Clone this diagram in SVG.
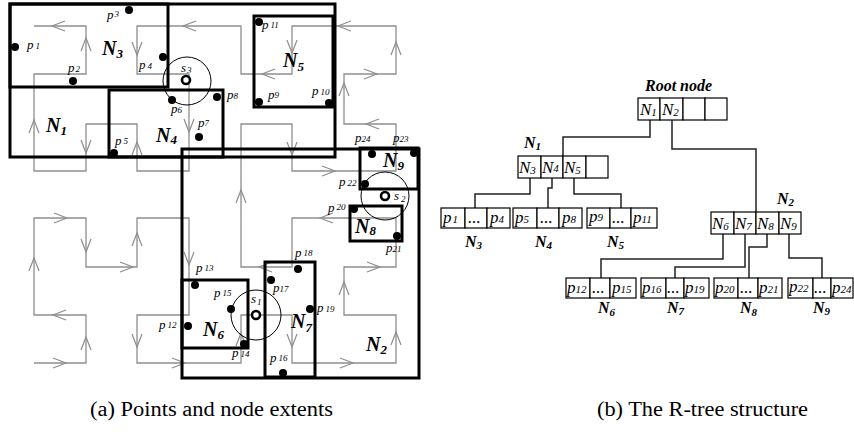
<svg xmlns="http://www.w3.org/2000/svg" xmlns:xlink="http://www.w3.org/1999/xlink" width="854" height="435" viewBox="0 0 854 435">
<style>
.curve{fill:none;stroke:#8e8e8e;stroke-width:1.3}
.chev{fill:none;stroke:#8e8e8e;stroke-width:1.2}
.box{fill:none;stroke:#000;stroke-width:3}
.qc{fill:none;stroke:#000;stroke-width:1}
.qp{fill:#fff;stroke:#000;stroke-width:2.6}
.pt{fill:#000}
.t{font-family:"Liberation Serif","Times New Roman",serif;fill:#000}
.pl{font-style:italic;font-size:13px}
.ps{font-size:9px}
.nl{font-style:italic;font-weight:bold;font-size:20px}
.ns{font-size:13px}
.cell{fill:#fff;stroke:#000;stroke-width:1.2}
.link{fill:none;stroke:#222;stroke-width:1.5}
.ct{font-style:italic;font-size:17px}
.cs{font-size:11px}
.tl{font-style:italic;font-weight:bold;font-size:16px}
.tls{font-size:11px}
.cap{font-size:20px}
</style>
<defs>
<path id="aR" class="chev" d="M-13,-5 L0,0 L-13,5"/>
<path id="aL" class="chev" d="M13,-5 L0,0 L13,5"/>
<path id="aU" class="chev" d="M-5,13 L0,0 L5,13"/>
<path id="aD" class="chev" d="M-5,-13 L0,0 L5,-13"/>
</defs>
<rect width="854" height="435" fill="#fff"/>

<g id="space-filling-curve">
<path class="curve" d="M34,363 H86 V315 H34 V218 H86 V267 H137 V218 H189 V315 H137 V363 H241 V315 H292 V363 H396 V315 H344 V267 H396 V218 H292 V267 H241 V124 H292 V171 H396 V124 H344 V74 H396 V26 H292 V74 H241 V26 H137 V74 H189 V171 H137 V124 H86 V171 H34 V74 H86 V26 H34"/>
<use xlink:href="#aR" x="66" y="363"/>
<use xlink:href="#aU" x="86" y="337"/>
<use xlink:href="#aL" x="53" y="315"/>
<use xlink:href="#aU" x="34" y="258"/>
<use xlink:href="#aR" x="67" y="218"/>
<use xlink:href="#aD" x="86" y="252"/>
<use xlink:href="#aR" x="133" y="267"/>
<use xlink:href="#aU" x="137" y="233"/>
<use xlink:href="#aD" x="189" y="265"/>
<use xlink:href="#aD" x="137" y="347"/>
<use xlink:href="#aR" x="185" y="363"/>
<use xlink:href="#aU" x="241" y="333"/>
<use xlink:href="#aD" x="292" y="347"/>
<use xlink:href="#aR" x="353" y="363"/>
<use xlink:href="#aU" x="396" y="332"/>
<use xlink:href="#aU" x="344" y="282"/>
<use xlink:href="#aR" x="380" y="267"/>
<use xlink:href="#aL" x="320" y="218"/>
<use xlink:href="#aL" x="259" y="267"/>
<use xlink:href="#aU" x="241" y="190"/>
<use xlink:href="#aD" x="292" y="155"/>
<use xlink:href="#aR" x="335" y="171"/>
<use xlink:href="#aL" x="366" y="124"/>
<use xlink:href="#aU" x="344" y="83"/>
<use xlink:href="#aR" x="377" y="74"/>
<use xlink:href="#aU" x="396" y="42"/>
<use xlink:href="#aL" x="338" y="26"/>
<use xlink:href="#aD" x="292" y="53"/>
<use xlink:href="#aL" x="262" y="74"/>
<use xlink:href="#aL" x="183" y="26"/>
<use xlink:href="#aD" x="137" y="55"/>
<use xlink:href="#aD" x="189" y="132"/>
<use xlink:href="#aU" x="137" y="142"/>
<use xlink:href="#aD" x="86" y="153"/>
<use xlink:href="#aU" x="34" y="120"/>
<use xlink:href="#aU" x="86" y="38"/>
<use xlink:href="#aL" x="52" y="26"/>
</g>

<g id="extent-N1"><rect class="box" x="10" y="4" width="325" height="153"/><text class="t nl" x="46" y="132">N<tspan class="ns" dy="3">1</tspan></text></g>
<g id="extent-N3"><rect class="box" x="10" y="4" width="158" height="83"/><text class="t nl" x="102" y="55">N<tspan class="ns" dy="3">3</tspan></text></g>
<g id="extent-N4"><rect class="box" x="109" y="90" width="114" height="67"/><text class="t nl" x="156" y="142">N<tspan class="ns" dy="2">4</tspan></text></g>
<g id="extent-N5"><rect class="box" x="254" y="16" width="79" height="91"/><text class="t nl" x="283" y="67">N<tspan class="ns" dy="4">5</tspan></text></g>
<g id="extent-N2"><rect class="box" x="182" y="149" width="237" height="229"/><text class="t nl" x="366" y="351">N<tspan class="ns" dy="3">2</tspan></text></g>
<g id="extent-N9"><rect class="box" x="360" y="148" width="58" height="41"/><text class="t nl" x="383" y="167">N<tspan class="ns" dy="3">9</tspan></text></g>
<g id="extent-N8"><rect class="box" x="350" y="206" width="52" height="35"/><text class="t nl" x="355" y="233">N<tspan class="ns" dy="2">8</tspan></text></g>
<g id="extent-N6"><rect class="box" x="182" y="280" width="66" height="68"/><text class="t nl" x="203" y="336">N<tspan class="ns" dy="3">6</tspan></text></g>
<g id="extent-N7"><rect class="box" x="265" y="262" width="50" height="115"/><text class="t nl" x="291" y="328">N<tspan class="ns" dy="4">7</tspan></text></g>

<g id="query-s3"><circle class="qc" cx="187" cy="81" r="24"/><circle class="qp" cx="186" cy="80" r="4"/><text class="t pl" x="181" y="72">s<tspan class="ps" dx="1" dy="1">3</tspan></text></g>
<g id="query-s2"><circle class="qc" cx="385" cy="196" r="24"/><circle class="qp" cx="385" cy="196" r="4"/><text class="t pl" x="394" y="200">s<tspan class="ps" dx="2" dy="2">2</tspan></text></g>
<g id="query-s1"><circle class="qc" cx="256" cy="315" r="25"/><circle class="qp" cx="256" cy="315" r="4"/><text class="t pl" x="251" y="303">s<tspan class="ps" dx="1" dy="2">1</tspan></text></g>

<g id="points">
<circle class="pt" cx="15" cy="47" r="4"/><text class="t pl" x="27" y="49">p<tspan class="ps" dx="2">1</tspan></text>
<circle class="pt" cx="73" cy="81" r="4"/><text class="t pl" x="68" y="72">p<tspan class="ps" dx="1">2</tspan></text>
<circle class="pt" cx="129" cy="10" r="4"/><text class="t pl" x="107" y="19">p<tspan class="ps" dx="1" dy="-2">3</tspan></text>
<circle class="pt" cx="163" cy="57" r="4"/><text class="t pl" x="139" y="69">p<tspan class="ps" dx="2">4</tspan></text>
<circle class="pt" cx="114" cy="153" r="4"/><text class="t pl" x="115" y="145">p<tspan class="ps" dx="2" dy="-1">5</tspan></text>
<circle class="pt" cx="172" cy="100" r="4"/><text class="t pl" x="171" y="113">p<tspan class="ps" dx="0">6</tspan></text>
<circle class="pt" cx="199" cy="137" r="4"/><text class="t pl" x="198" y="127">p<tspan class="ps" dx="0" dy="-1">7</tspan></text>
<circle class="pt" cx="217" cy="97" r="4"/><text class="t pl" x="227" y="99">p<tspan class="ps" dx="0">8</tspan></text>
<circle class="pt" cx="259" cy="102" r="4"/><text class="t pl" x="268" y="99">p<tspan class="ps" dx="0" dy="-1">9</tspan></text>
<circle class="pt" cx="329" cy="103" r="4"/><text class="t pl" x="312" y="95">p<tspan class="ps" dx="2">10</tspan></text>
<circle class="pt" cx="259" cy="22" r="4"/><text class="t pl" x="262" y="29">p<tspan class="ps" dx="2" dy="-1">11</tspan></text>
<circle class="pt" cx="365" cy="184" r="4"/><text class="t pl" x="339" y="186">p<tspan class="ps" dx="2">22</tspan></text>
<circle class="pt" cx="414" cy="153" r="4"/><text class="t pl" x="393" y="142">p<tspan class="ps" dx="0">23</tspan></text>
<circle class="pt" cx="372" cy="154" r="4"/><text class="t pl" x="355" y="142">p<tspan class="ps" dx="0">24</tspan></text>
<circle class="pt" cx="354" cy="209" r="4"/><text class="t pl" x="328" y="212">p<tspan class="ps" dx="2" dy="-2">20</tspan></text>
<circle class="pt" cx="397" cy="236" r="4"/><text class="t pl" x="386" y="252">p<tspan class="ps" dx="0">21</tspan></text>
<circle class="pt" cx="195" cy="285" r="4"/><text class="t pl" x="196" y="272">p<tspan class="ps" dx="2" dy="-1">13</tspan></text>
<circle class="pt" cx="231" cy="309" r="4"/><text class="t pl" x="214" y="297">p<tspan class="ps" dx="2" dy="-1">15</tspan></text>
<circle class="pt" cx="188" cy="326" r="4"/><text class="t pl" x="159" y="329">p<tspan class="ps" dx="2" dy="-1">12</tspan></text>
<circle class="pt" cx="244" cy="344" r="4"/><text class="t pl" x="232" y="357">p<tspan class="ps" dx="2">14</tspan></text>
<circle class="pt" cx="271" cy="280" r="4"/><text class="t pl" x="273" y="292">p<tspan class="ps" dx="0">17</tspan></text>
<circle class="pt" cx="298" cy="269" r="4"/><text class="t pl" x="295" y="257">p<tspan class="ps" dx="2" dy="-1">18</tspan></text>
<circle class="pt" cx="310" cy="309" r="4"/><text class="t pl" x="317" y="312">p<tspan class="ps" dx="2">19</tspan></text>
<circle class="pt" cx="283" cy="373" r="4"/><text class="t pl" x="270" y="362">p<tspan class="ps" dx="2" dy="-1">16</tspan></text>
</g>

<g id="connectors">
<path class="link" d="M650,120 V137 H563 V156"/>
<path class="link" d="M672,120 V149 H756 V212"/>
<path class="link" d="M530,178 V194 H475 V208"/>
<path class="link" d="M552,178 V188 H548 V208"/>
<path class="link" d="M574,178 V194 H621 V208"/>
<path class="link" d="M723,234 V259 H601 V278"/>
<path class="link" d="M745,234 V267 H675 V278"/>
<path class="link" d="M767,234 V247 H749 V278"/>
<path class="link" d="M789,234 V258 H822 V278"/>
</g>

<g id="root-node">
<text class="t tl" x="645" y="91">Root node</text>
<rect class="cell" x="638" y="98" width="22" height="22"/><rect class="cell" x="660" y="98" width="23" height="22"/><rect class="cell" x="683" y="98" width="22" height="22"/><rect class="cell" x="705" y="98" width="22" height="22"/>
<text class="t ct" x="640" y="115">N<tspan class="cs" dy="1">1</tspan></text>
<text class="t ct" x="662" y="115">N<tspan class="cs" dy="1">2</tspan></text>
</g>

<g id="node-N1">
<text class="t tl" x="524" y="148">N<tspan class="tls" dy="2">1</tspan></text>
<rect class="cell" x="518" y="156" width="23" height="22"/><rect class="cell" x="541" y="156" width="22" height="22"/><rect class="cell" x="563" y="156" width="23" height="22"/><rect class="cell" x="586" y="156" width="22" height="22"/>
<text class="t ct" x="519" y="173">N<tspan class="cs" dy="1">3</tspan></text>
<text class="t ct" x="542" y="173">N<tspan class="cs" dy="-1">4</tspan></text>
<text class="t ct" x="564" y="173">N<tspan class="cs" dy="1">5</tspan></text>
</g>

<g id="node-N2">
<text class="t tl" x="777" y="204">N<tspan class="tls" dy="2">2</tspan></text>
<rect class="cell" x="711" y="212" width="23" height="22"/><rect class="cell" x="734" y="212" width="22" height="22"/><rect class="cell" x="756" y="212" width="23" height="22"/><rect class="cell" x="779" y="212" width="22" height="22"/>
<text class="t ct" x="712" y="229">N<tspan class="cs" dy="1">6</tspan></text>
<text class="t ct" x="735" y="229">N<tspan class="cs" dy="1">7</tspan></text>
<text class="t ct" x="757" y="229">N<tspan class="cs" dy="1">8</tspan></text>
<text class="t ct" x="780" y="229">N<tspan class="cs" dy="1">9</tspan></text>
</g>

<g id="leaf-N3">
<rect class="cell" x="441" y="208" width="24" height="20"/><rect class="cell" x="465" y="208" width="22" height="20"/><rect class="cell" x="487" y="208" width="23" height="20"/>
<text class="t ct" x="443" y="223">p<tspan class="cs" dx="1">1</tspan></text><text class="t ct" x="468" y="223" font-style="normal" font-size="14">...</text><text class="t ct" x="490" y="223">p<tspan class="cs">4</tspan></text>
<text class="t tl" x="465" y="247">N<tspan class="tls" dy="2">3</tspan></text>
</g>
<g id="leaf-N4">
<rect class="cell" x="513" y="208" width="24" height="20"/><rect class="cell" x="537" y="208" width="22" height="20"/><rect class="cell" x="559" y="208" width="23" height="20"/>
<text class="t ct" x="515" y="223">p<tspan class="cs">5</tspan></text><text class="t ct" x="540" y="223" font-style="normal" font-size="14">...</text><text class="t ct" x="562" y="223">p<tspan class="cs">8</tspan></text>
<text class="t tl" x="535" y="247">N<tspan class="tls" dy="2">4</tspan></text>
</g>
<g id="leaf-N5">
<rect class="cell" x="587" y="208" width="23" height="20"/><rect class="cell" x="610" y="208" width="21" height="20"/><rect class="cell" x="631" y="208" width="26" height="20"/>
<text class="t ct" x="589" y="222">p<tspan class="cs" dy="-1">9</tspan></text><text class="t ct" x="612" y="223" font-style="normal" font-size="14">...</text><text class="t ct" x="633" y="223">p<tspan class="cs">11</tspan></text>
<text class="t tl" x="607" y="247">N<tspan class="tls" dy="2">5</tspan></text>
</g>

<g id="leaf-N6">
<rect class="cell" x="566" y="278" width="24" height="20"/><rect class="cell" x="590" y="278" width="20" height="20"/><rect class="cell" x="610" y="278" width="26" height="20"/>
<text class="t ct" x="567" y="293">p<tspan class="cs">12</tspan></text><text class="t ct" x="592" y="293" font-style="normal" font-size="14">...</text><text class="t ct" x="612" y="293">p<tspan class="cs">15</tspan></text>
<text class="t tl" x="598" y="313">N<tspan class="tls" dy="3">6</tspan></text>
</g>
<g id="leaf-N7">
<rect class="cell" x="641" y="278" width="25" height="20"/><rect class="cell" x="666" y="278" width="18" height="20"/><rect class="cell" x="684" y="278" width="25" height="20"/>
<text class="t ct" x="642" y="293">p<tspan class="cs">16</tspan></text><text class="t ct" x="667" y="293" font-style="normal" font-size="14">...</text><text class="t ct" x="685" y="293">p<tspan class="cs">19</tspan></text>
<text class="t tl" x="667" y="313">N<tspan class="tls" dy="2">7</tspan></text>
</g>
<g id="leaf-N8">
<rect class="cell" x="714" y="278" width="24" height="20"/><rect class="cell" x="738" y="278" width="20" height="20"/><rect class="cell" x="758" y="278" width="24" height="20"/>
<text class="t ct" x="715" y="293">p<tspan class="cs">20</tspan></text><text class="t ct" x="740" y="293" font-style="normal" font-size="14">...</text><text class="t ct" x="759" y="293">p<tspan class="cs">21</tspan></text>
<text class="t tl" x="740" y="313">N<tspan class="tls" dy="3">8</tspan></text>
</g>
<g id="leaf-N9">
<rect class="cell" x="788" y="278" width="25" height="20"/><rect class="cell" x="813" y="278" width="18" height="20"/><rect class="cell" x="831" y="278" width="22" height="20"/>
<text class="t ct" x="789" y="292">p<tspan class="cs">22</tspan></text><text class="t ct" x="814" y="293" font-style="normal" font-size="14">...</text><text class="t ct" x="832" y="293">p<tspan class="cs">24</tspan></text>
<text class="t tl" x="813" y="313">N<tspan class="tls" dy="2">9</tspan></text>
</g>

<g id="captions">
<text class="t cap" x="90" y="416" textLength="243" lengthAdjust="spacingAndGlyphs">(a) Points and node extents</text>
<text class="t cap" x="597" y="416" textLength="211" lengthAdjust="spacingAndGlyphs">(b) The R-tree structure</text>
</g>
</svg>
